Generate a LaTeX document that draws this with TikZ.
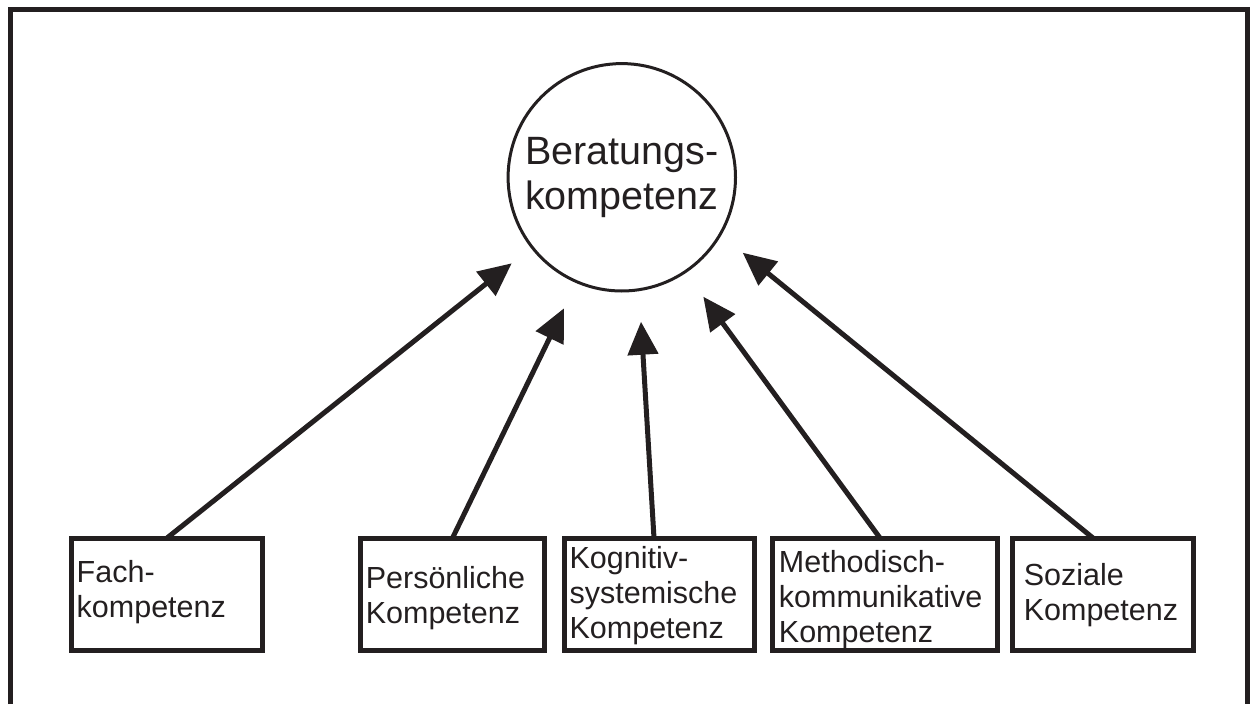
\documentclass[tikz,border=0pt]{standalone}
\usepackage{fontspec}
\setmainfont{Liberation Sans}
\usetikzlibrary{arrows.meta}
\definecolor{ink}{RGB}{35,31,32}
\begin{document}
\begin{tikzpicture}[x=1pt,y=-1pt,
  box/.style={draw=ink,line width=5pt,minimum height=112.5pt,inner sep=0pt,outer sep=0pt},
  lbl/.style={anchor=north west,align=left,inner sep=0pt,font=\fontsize{30.5}{35}\selectfont,text=ink},
  arr/.style={draw=ink,line width=5pt,-{Triangle[length=33pt,width=30pt]}},
]
\useasboundingbox (0,0) rectangle (1255,704);
\draw[ink,line width=5pt] (10.8,704) -- (10.8,9.8) -- (1247.5,9.8) -- (1247.5,704);

\node[circle,draw=ink,line width=3pt,minimum size=227.4pt,inner sep=0pt,align=center,
      font=\fontsize{39.5}{45}\selectfont,text=ink] (ber) at (621.8,177.3) {Beratungs-\\kompetenz};

\node[box,minimum width=191pt] (fach) at (167,594.25) {};
\node[box,minimum width=184pt] (pers) at (452.5,594.25) {};
\node[box,minimum width=190pt] (kog) at (659,594.25) {};
\node[box,minimum width=225.5pt] (meth) at (884.75,594.25) {};
\node[box,minimum width=181pt] (soz) at (1103,594.25) {};

\node[lbl] (tfach) at (76.5,560) {Fach-\\kompetenz};
\node[lbl] (tpers) at (365.6,566.5) {Persönliche\\Kompetenz};
\node[lbl] (tkog) at (569.4,546.2) {Kognitiv-\\systemische\\Kompetenz};
\node[lbl] (tmeth) at (778.7,550) {Methodisch-\\kommunikative\\Kompetenz};
\node[lbl] (tsoz) at (1023.6,563.2) {Soziale\\Kompetenz};

\coordinate (hf) at (511.7,263.3);
\coordinate (hp) at (564,308.3);
\coordinate (hk) at (641,321.7);
\coordinate (hm) at (703.3,296.7);
\coordinate (hs) at (742.7,252.7);

\draw[arr] (fach.north) -- (hf);
\draw[arr] (pers.north) -- (hp);
\draw[arr] ([xshift=-5pt]kog.north) -- (hk);
\draw[arr] ([xshift=-4.75pt]meth.north) -- (hm);
\draw[arr] ([xshift=-10pt]soz.north) -- (hs);
\end{tikzpicture}
\end{document}
